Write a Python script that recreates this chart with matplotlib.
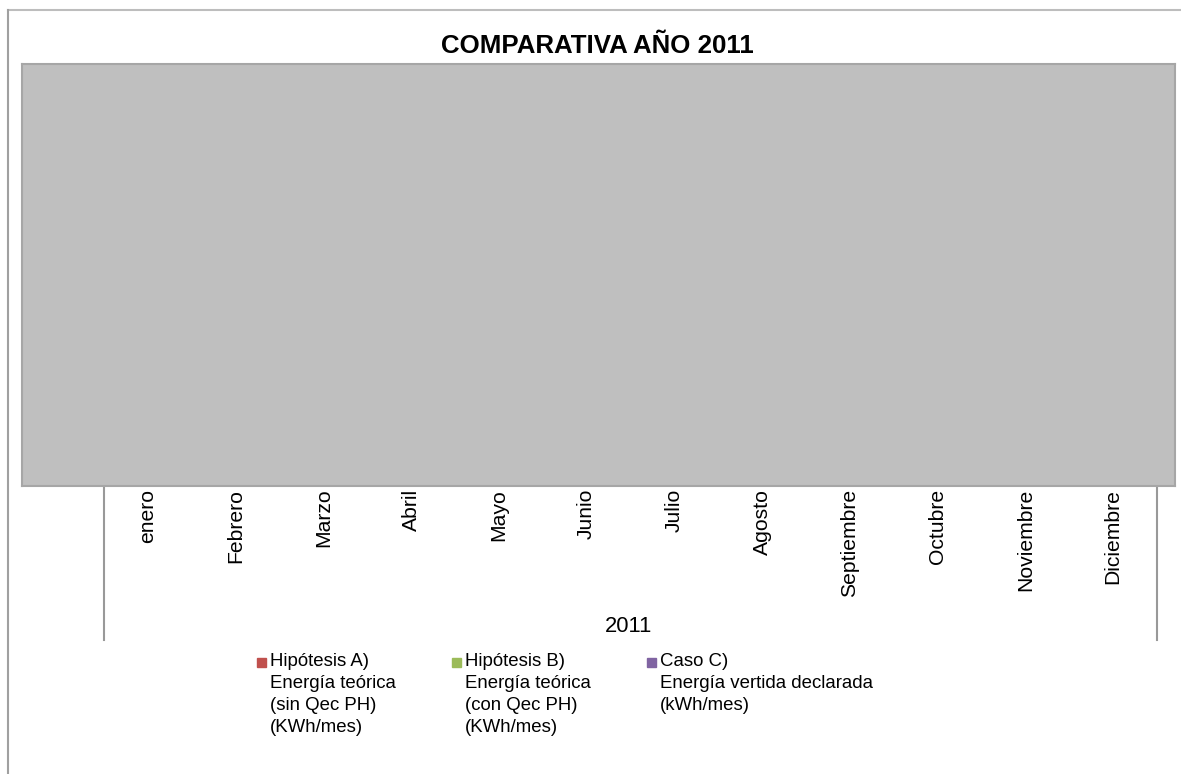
import matplotlib
matplotlib.use("Agg")
import matplotlib.pyplot as plt
from matplotlib.lines import Line2D
from matplotlib.patches import Rectangle
import numpy as np

plt.rcParams['font.family'] = ['Liberation Sans', 'DejaVu Sans']

title = "COMPARATIVA AÑO 2011"
months = ["enero", "Febrero", "Marzo", "Abril", "Mayo", "Junio", "Julio",
          "Agosto", "Septiembre", "Octubre", "Noviembre", "Diciembre"]
year_label = "2011"
series_names = [
    "Hipótesis A)\nEnergía teórica\n(sin Qec PH)\n(KWh/mes)",
    "Hipótesis B)\nEnergía teórica\n(con Qec PH)\n(KWh/mes)",
    "Caso C)\nEnergía vertida declarada\n(kWh/mes)",
]
series_colors = ["#C0504D", "#9BBB59", "#8064A2"]
# No values are shown in the chart (empty series)
hip_a = [0] * 12
hip_b = [0] * 12
caso_c = [0] * 12
series_values = [hip_a, hip_b, caso_c]

W, H = 1181, 774
fig = plt.figure(figsize=(W / 100, H / 100), dpi=100)

def fx(px):
    return px / W

def fy(py):
    return 1 - py / H

# outer frame (top and left)
fig.add_artist(Line2D([fx(8), fx(1181)], [fy(10), fy(10)], color="#BDBDBD", lw=1.5))
fig.add_artist(Line2D([fx(8), fx(8)], [fy(10), fy(774)], color="#A0A0A0", lw=1.5))

# plot area
L, R, T, B = 22, 1175, 64, 486
ax = fig.add_axes([fx(L), fy(B), fx(R - L), (B - T) / H])
ax.set_facecolor("#BFBFBF")
for s in ax.spines.values():
    s.set_color("#A6A6A6")
    s.set_linewidth(1.5)

x = np.arange(len(months))
bw = 0.25
for i, (vals, c) in enumerate(zip(series_values, series_colors)):
    ax.bar(x + (i - 1) * bw, vals, width=bw, color=c, linewidth=0)

step = (1157 - 104) / 12.0
c0 = 104 + step / 2
ax.set_xlim((L - c0) / step, (R - c0) / step)
ax.set_ylim(0, 1)
ax.set_yticks([])
ax.set_xticks(x)
ax.set_xticklabels(months, rotation=90, fontsize=15.2, color="#000000", va="top")
ax.tick_params(axis="x", length=0, pad=2)

# category group dividers
trans = ax.get_xaxis_transform()
ybot = -(640 - B) / (B - T)
for xv in (-0.5, len(months) - 0.5):
    ax.plot([xv, xv], [-1.0 / (B - T), ybot], color="#999999", lw=1.5,
            transform=trans, clip_on=False)

fig.text(fx(629), fy(627), year_label, ha="center", va="center", fontsize=15.8)

fig.text(fx(597), fy(46), title, ha="center", va="center", fontsize=18.6,
         fontweight="bold")

# legend
leg_x = [257, 452, 647]
for lx, name, c in zip(leg_x, series_names, series_colors):
    fig.add_artist(Rectangle((fx(lx), fy(667)), fx(9), 9 / H, color=c,
                             transform=fig.transFigure))
    fig.text(fx(lx + 13), fy(653), name, ha="left", va="top", fontsize=13.4,
             linespacing=1.39)

fig.savefig("out.png", dpi=100)
